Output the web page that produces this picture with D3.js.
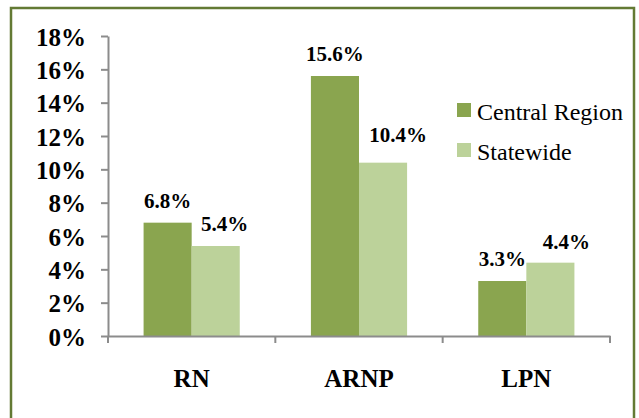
<!DOCTYPE html>
<html>
<head>
<meta charset="utf-8">
<script src="https://cdn.jsdelivr.net/npm/d3@7"></script>
<style>
  body { margin: 0; background: #fff; }
  svg { display: block; }
  text { font-family: "Liberation Serif", "Times New Roman", serif; fill: #000; }
</style>
</head>
<body>
<svg width="639" height="418"></svg>
<script>
var categories = ["RN", "ARNP", "LPN"];
var seriesNames = ["Central Region", "Statewide"];
var centralRegion = [6.8, 15.6, 3.3];
var statewide = [5.4, 10.4, 4.4];
var yTicks = [0, 2, 4, 6, 8, 10, 12, 14, 16, 18];

var colors = ["#8aa54f", "#bcd29a"];
// excel-style label nudges for the second series (dx, dy above bar)
var labelDx = [[0, 0, 0], [9, 15, 16]];
var labelDy = [[15, 15, 15], [15, 21, 14]];

var svg = d3.select("svg"),
    plotLeft = 108, plotRight = 610, plotTop = 36, plotBottom = 336;

// outer frame
svg.append("rect")
    .attr("x", 11).attr("y", 8)
    .attr("width", 623).attr("height", 420)
    .attr("fill", "#fff")
    .attr("stroke", "#637a34")
    .attr("stroke-width", 2.5);

var y = d3.scaleLinear().domain([0, 18]).range([plotBottom, plotTop]);
var x0 = d3.scaleBand().domain(categories).range([plotLeft, plotRight]);
var x1 = d3.scaleBand().domain(seriesNames).range([0, x0.bandwidth()]).paddingOuter(0.74);

var data = [centralRegion, statewide];

// bars
data.forEach(function(vals, s) {
  svg.append("g").selectAll("rect")
    .data(vals)
    .join("rect")
      .attr("x", function(d, i) { return x0(categories[i]) + x1(seriesNames[s]); })
      .attr("y", function(d) { return y(d); })
      .attr("width", x1.bandwidth())
      .attr("height", function(d) { return plotBottom - y(d); })
      .attr("fill", colors[s]);

  svg.append("g").selectAll("text")
    .data(vals)
    .join("text")
      .attr("x", function(d, i) { return x0(categories[i]) + x1(seriesNames[s]) + x1.bandwidth() / 2 + labelDx[s][i]; })
      .attr("y", function(d, i) { return y(d) - labelDy[s][i]; })
      .attr("text-anchor", "middle")
      .style("font-size", "21px")
      .style("font-weight", "bold")
      .text(function(d) { return d.toFixed(1) + "%"; });
});

// y axis
var yAxis = d3.axisLeft(y).tickValues(yTicks).tickSize(7).tickSizeOuter(0)
    .tickFormat(function(d) { return d + "%"; });
var gy = svg.append("g").attr("transform", "translate(" + plotLeft + ",0)").call(yAxis);
gy.selectAll("path, line").attr("stroke", "#8c8c8c").attr("stroke-width", 2);
gy.selectAll("text")
    .attr("x", -22).attr("dy", "0.36em")
    .style("font-size", "25px").style("font-weight", "bold")
    .style("font-family", "'Liberation Serif', serif");

// x axis
var xAxis = d3.axisBottom(x0).tickSize(0).tickSizeOuter(0);
var gx = svg.append("g").attr("transform", "translate(0," + plotBottom + ")").call(xAxis);
gx.select("path").attr("stroke", "#8c8c8c").attr("stroke-width", 2);
gx.selectAll("text")
    .attr("y", 51).attr("dy", 0)
    .style("font-size", "25px").style("font-weight", "bold")
    .style("font-family", "'Liberation Serif', serif");
// category boundary ticks
var bounds = categories.map(function(c) { return x0(c); }).concat([plotRight]);
gx.selectAll("line.bound")
  .data(bounds)
  .join("line")
    .attr("class", "bound")
    .attr("x1", function(d) { return d; }).attr("x2", function(d) { return d; })
    .attr("y1", 0).attr("y2", 7)
    .attr("stroke", "#8c8c8c").attr("stroke-width", 2);

// legend
var legend = svg.append("g").selectAll("g")
  .data(seriesNames)
  .join("g")
    .attr("transform", function(d, i) { return "translate(457," + (103 + i * 40) + ")"; });
legend.append("rect")
    .attr("width", 14).attr("height", 14)
    .attr("fill", function(d, i) { return colors[i]; });
legend.append("text")
    .attr("x", 20).attr("y", 17)
    .style("font-size", "24px")
    .text(function(d) { return d; });
</script>
</body>
</html>
